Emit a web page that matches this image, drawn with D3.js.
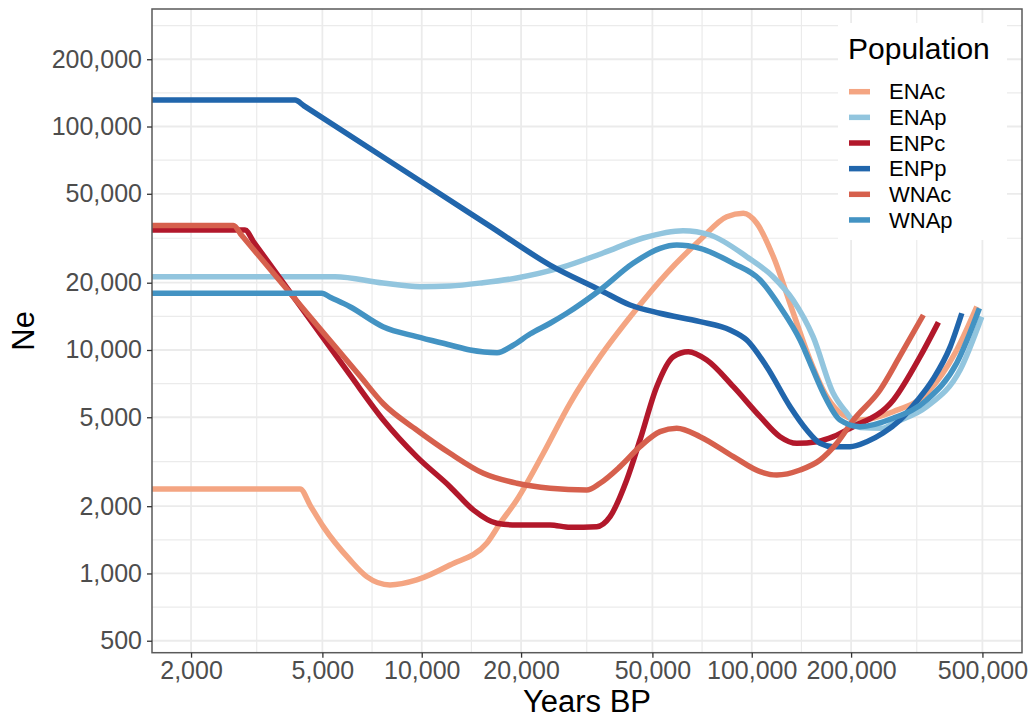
<!DOCTYPE html>
<html>
<head>
<meta charset="utf-8">
<script src="https://cdn.jsdelivr.net/npm/d3@7/dist/d3.min.js"></script>
<style>
  html, body { margin: 0; padding: 0; background: #ffffff; }
  svg { display: block; font-family: "Liberation Sans", Arial, Helvetica, sans-serif; }
</style>
</head>
<body>
<svg id="chart" width="1032" height="717"></svg>
<script>
// Effective population size (Ne) through time, one trajectory per population.
const populations = ["ENAc", "ENAp", "ENPc", "ENPp", "WNAc", "WNAp"];
const populationColors = ["#F4A582", "#92C5DE", "#B2182B", "#2166AC", "#D6604D", "#4393C3"];

// [years BP, Ne]
const ENAc = [
  [1500, 2390], [4278, 2390], [4600, 2007], [5032, 1620], [6063, 1149], [6813, 968], [8015, 888],
  [9656, 935], [12180, 1091], [15740, 1365], [17280, 1677], [19410, 2133], [23360, 3450],
  [28140, 5774], [34700, 9333], [43690, 14600], [55250, 22040], [69710, 31060],
  [84010, 39480], [94300, 40890], [103600, 36900], [116300, 26150], [133700, 14600],
  [150200, 9022], [168800, 6180], [189500, 5120], [212900, 4862], [268000, 5294],
  [339100, 6404], [418000, 10000], [480800, 15620]
];
const ENAp = [
  [1500, 21280], [5462, 21280], [7632, 19940], [9881, 19200], [12180, 19340],
  [15340, 20000], [19410, 21000], [26250, 23280], [35430, 27160], [46830, 31710],
  [61920, 34190], [74750, 32700], [96560, 26150], [116000, 21280], [133400, 16740],
  [153400, 11470], [176400, 6423], [194100, 5225], [212900, 4500], [250000, 4464],
  [268000, 4699], [339100, 5576], [427800, 8140], [497700, 14090]
];
const ENPc = [
  [1500, 34440], [2914, 34440], [3100, 30340], [4500, 14200], [6063, 7729], [7648, 4862],
  [9656, 3332], [12180, 2446], [14330, 1924], [16880, 1677], [19410, 1648], [24480, 1648],
  [28140, 1609], [33920, 1620], [37210, 1796], [41800, 2620], [45860, 3957], [51530, 6852],
  [57860, 9333], [64240, 9826], [73050, 9022], [87970, 6852], [106000, 5030],
  [121800, 4094], [136900, 3823], [157400, 3888], [176800, 4094], [198600, 4464],
  [268600, 5975], [323600, 9333], [367700, 13300]
];
const ENPp = [
  [1500, 131400], [4131, 131400], [4400, 123700], [10000, 56440], [16000, 36020],
  [24480, 23990], [34700, 18560], [42780, 15900], [52730, 14600], [69710, 13390],
  [85970, 12290], [96560, 11080], [111000, 8420], [130700, 5576], [146800, 4387],
  [161100, 3824], [176400, 3693], [198600, 3693], [223100, 3888], [250000, 4253],
  [281400, 4862], [316200, 5900], [354300, 7400], [399000, 10300], [433000, 14600]
];
const WNAc = [
  [1500, 36060], [2687, 36060], [2850, 32500], [5000, 12110], [6500, 7646], [7648, 5745],
  [9656, 4387], [12180, 3450], [15370, 2807], [19410, 2533], [24480, 2406], [31620, 2363],
  [34700, 2533], [39900, 3006], [45860, 3693], [52730, 4311], [59250, 4464], [69710, 4094],
  [87970, 3332], [106000, 2855], [119100, 2759], [140100, 2905], [161100, 3220],
  [181000, 3823], [203300, 4862], [244800, 6622], [281400, 9400], [331100, 14340]
];
const WNAp = [
  [1500, 17940], [4977, 17940], [5300, 17170], [6063, 15620], [7632, 12720], [9656, 11470],
  [12180, 10530], [14010, 10000], [16910, 9725], [18770, 10420], [21290, 11790],
  [24480, 13170], [27510, 14600], [34700, 18560], [43690, 24430], [52730, 28510],
  [59250, 29500], [69710, 28510], [87780, 24430], [106000, 20570], [121800, 15620],
  [140100, 11080], [153400, 8140], [164800, 6404], [185200, 4862], [212900, 4538],
  [268000, 4948], [339100, 5975], [418000, 8747], [489600, 15370]
];
const seriesData = [ENAc, ENAp, ENPc, ENPp, WNAc, WNAp];

// Axis breaks and labels
const xTicks = [2000, 5000, 10000, 20000, 50000, 100000, 200000, 500000];
const yTicks = [500, 1000, 2000, 5000, 10000, 20000, 50000, 100000, 200000];
const xDomain = [1523, 659000];
const yDomain = [442, 335600];
const xTitle = "Years BP";
const yTitle = "Ne";
const legendTitle = "Population";

const fmt = d3.format(",");

const svg = d3.select("#chart");
const panel = { left: 152, right: 1022, top: 9, bottom: 652.7 };

const x = d3.scaleLog().domain(xDomain).range([panel.left, panel.right]);
const y = d3.scaleLog().domain(yDomain).range([panel.bottom, panel.top]);

// Minor breaks sit halfway (in log space) between majors, extended one step past each end
function minorBreaks(ticks, domain) {
  const b = ticks.slice();
  const lo = b[0] / (b[1] / b[0]);
  const hi = b[b.length - 1] * (b[b.length - 1] / b[b.length - 2]);
  const all = [lo, ...b, hi];
  const mids = [];
  for (let i = 0; i < all.length - 1; i++) mids.push(Math.sqrt(all[i] * all[i + 1]));
  return mids.filter(v => v > domain[0] && v < domain[1]);
}

// Panel background
svg.append("rect")
  .attr("x", panel.left).attr("y", panel.top)
  .attr("width", panel.right - panel.left).attr("height", panel.bottom - panel.top)
  .attr("fill", "#ffffff");

const grid = svg.append("g");
grid.selectAll(".xminor").data(minorBreaks(xTicks, xDomain)).join("line")
  .attr("x1", d => x(d)).attr("x2", d => x(d))
  .attr("y1", panel.top).attr("y2", panel.bottom)
  .attr("stroke", "#EBEBEB").attr("stroke-width", 1.2);
grid.selectAll(".yminor").data(minorBreaks(yTicks, yDomain)).join("line")
  .attr("y1", d => y(d)).attr("y2", d => y(d))
  .attr("x1", panel.left).attr("x2", panel.right)
  .attr("stroke", "#EBEBEB").attr("stroke-width", 1.2);
grid.selectAll(".xmajor").data(xTicks).join("line")
  .attr("x1", d => x(d)).attr("x2", d => x(d))
  .attr("y1", panel.top).attr("y2", panel.bottom)
  .attr("stroke", "#EBEBEB").attr("stroke-width", 1.8);
grid.selectAll(".ymajor").data(yTicks).join("line")
  .attr("y1", d => y(d)).attr("y2", d => y(d))
  .attr("x1", panel.left).attr("x2", panel.right)
  .attr("stroke", "#EBEBEB").attr("stroke-width", 1.8);

// Clip trajectories to the panel
svg.append("defs").append("clipPath").attr("id", "panel-clip")
  .append("rect")
  .attr("x", panel.left).attr("y", panel.top)
  .attr("width", panel.right - panel.left).attr("height", panel.bottom - panel.top);

const line = d3.line()
  .x(d => x(d[0]))
  .y(d => y(d[1]))
  .curve(d3.curveMonotoneX);

const lines = svg.append("g").attr("clip-path", "url(#panel-clip)");
seriesData.forEach((data, i) => {
  lines.append("path")
    .datum(data)
    .attr("d", line)
    .attr("fill", "none")
    .attr("stroke", populationColors[i])
    .attr("stroke-width", 5.5)
    .attr("stroke-linejoin", "round")
    .attr("stroke-linecap", "butt");
});

// Legend inside the panel, top right
const legend = svg.append("g");
legend.append("rect")
  .attr("x", 838).attr("y", 23).attr("width", 169).attr("height", 217)
  .attr("fill", "#ffffff");
legend.append("text")
  .attr("x", 848).attr("y", 59)
  .attr("font-size", 30).attr("fill", "#000000")
  .text(legendTitle);
populations.forEach((p, i) => {
  const cy = 91.7 + i * 25.65;
  legend.append("line")
    .attr("x1", 849).attr("x2", 870)
    .attr("y1", cy).attr("y2", cy)
    .attr("stroke", populationColors[i]).attr("stroke-width", 5.5);
  legend.append("text")
    .attr("x", 889).attr("y", cy)
    .attr("dy", "0.35em")
    .attr("font-size", 22).attr("fill", "#000000")
    .text(p);
});

// Panel border
svg.append("rect")
  .attr("x", panel.left).attr("y", panel.top)
  .attr("width", panel.right - panel.left).attr("height", panel.bottom - panel.top)
  .attr("fill", "none").attr("stroke", "#5a5a5a").attr("stroke-width", 1.5);

// Axes
const xAxis = svg.append("g")
  .attr("transform", `translate(0,${panel.bottom})`)
  .call(d3.axisBottom(x).tickValues(xTicks).tickFormat(fmt).tickSize(5).tickPadding(4));
const yAxis = svg.append("g")
  .attr("transform", `translate(${panel.left},0)`)
  .call(d3.axisLeft(y).tickValues(yTicks).tickFormat(fmt).tickSize(5).tickPadding(5));
[xAxis, yAxis].forEach(ax => {
  ax.select(".domain").remove();
  ax.selectAll(".tick line").attr("stroke", "#333333").attr("stroke-width", 1.3);
  ax.selectAll(".tick text")
    .attr("fill", "#4D4D4D")
    .attr("font-size", 25)
    .attr("font-family", "'Liberation Sans', Arial, Helvetica, sans-serif");
});

// Axis titles
svg.append("text")
  .attr("x", (panel.left + panel.right) / 2).attr("y", 711.5)
  .attr("text-anchor", "middle")
  .attr("font-size", 31).attr("fill", "#000000")
  .text(xTitle);
svg.append("text")
  .attr("transform", `translate(34,${(panel.top + panel.bottom) / 2}) rotate(-90)`)
  .attr("text-anchor", "middle")
  .attr("font-size", 31).attr("fill", "#000000")
  .text(yTitle);
</script>
</body>
</html>
